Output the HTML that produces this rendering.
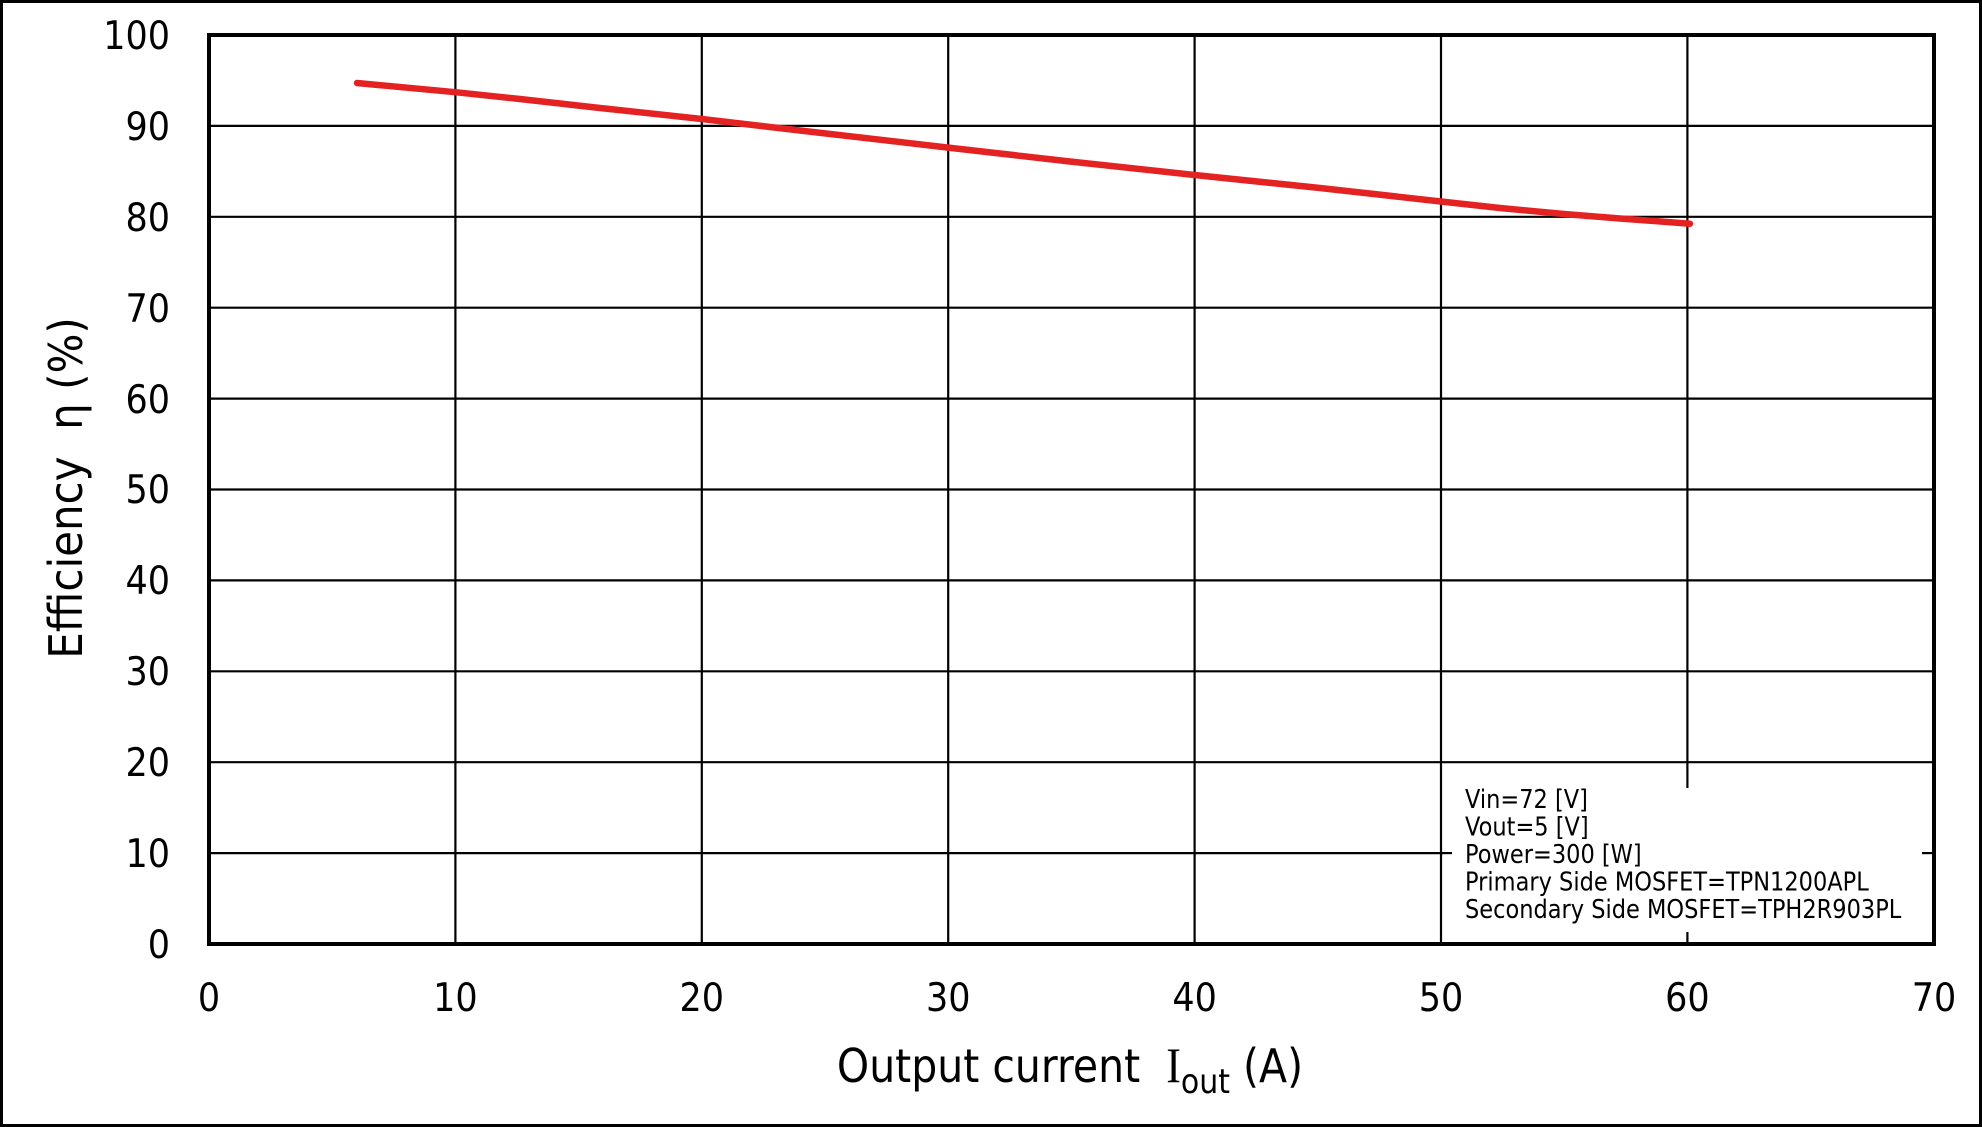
<!DOCTYPE html>
<html><head><meta charset="utf-8"><style>
html,body{margin:0;padding:0;background:#fff;}
svg{display:block;}
text{font-family:"DejaVu Sans","Liberation Sans",sans-serif;fill:#000;}
</style></head><body>
<svg width="1982" height="1127" viewBox="0 0 1982 1127" xmlns="http://www.w3.org/2000/svg">
<rect x="1.5" y="1.5" width="1979" height="1124" fill="#fff" stroke="#000" stroke-width="3"/>
<g stroke="#000" stroke-width="2.2">
<line x1="209" y1="125.9" x2="1934" y2="125.9"/>
<line x1="209" y1="216.8" x2="1934" y2="216.8"/>
<line x1="209" y1="307.7" x2="1934" y2="307.7"/>
<line x1="209" y1="398.6" x2="1934" y2="398.6"/>
<line x1="209" y1="489.5" x2="1934" y2="489.5"/>
<line x1="209" y1="580.4" x2="1934" y2="580.4"/>
<line x1="209" y1="671.3" x2="1934" y2="671.3"/>
<line x1="209" y1="762.2" x2="1934" y2="762.2"/>
<line x1="209" y1="853.1" x2="1934" y2="853.1"/>
<line x1="455.4" y1="35" x2="455.4" y2="944"/>
<line x1="701.8" y1="35" x2="701.8" y2="944"/>
<line x1="948.2" y1="35" x2="948.2" y2="944"/>
<line x1="1194.6" y1="35" x2="1194.6" y2="944"/>
<line x1="1441" y1="35" x2="1441" y2="944"/>
<line x1="1687.4" y1="35" x2="1687.4" y2="944"/>
</g>
<rect x="1443" y="777" width="489" height="165" fill="#fff"/>
<g stroke="#000" stroke-width="2.2">
<line x1="1687.4" y1="777" x2="1687.4" y2="788"/>
<line x1="1687.4" y1="932" x2="1687.4" y2="944"/>
<line x1="1441" y1="853.1" x2="1452" y2="853.1"/>
<line x1="1922" y1="853.1" x2="1934" y2="853.1"/>
</g>
<rect x="209" y="35" width="1725" height="909" fill="none" stroke="#000" stroke-width="4"/>
<polyline fill="none" stroke="#e52222" stroke-width="6.5" stroke-linecap="round" stroke-linejoin="round"
points="357,83 455.4,92.2 520,99 600,108 701.8,119 800,130.5 948.2,147.6 1070,161.5 1194.6,175 1320,188 1441,201.5 1500,208 1564,214 1620,218.5 1690,223.7"/>
<g font-size="35" text-anchor="end">
<text transform="translate(170,49) scale(1,1.12)">100</text>
<text transform="translate(170,140) scale(1,1.12)">90</text>
<text transform="translate(170,231) scale(1,1.12)">80</text>
<text transform="translate(170,322) scale(1,1.12)">70</text>
<text transform="translate(170,413) scale(1,1.12)">60</text>
<text transform="translate(170,503) scale(1,1.12)">50</text>
<text transform="translate(170,594) scale(1,1.12)">40</text>
<text transform="translate(170,685) scale(1,1.12)">30</text>
<text transform="translate(170,776) scale(1,1.12)">20</text>
<text transform="translate(170,867) scale(1,1.12)">10</text>
<text transform="translate(170,958) scale(1,1.12)">0</text>
</g>
<g font-size="35" text-anchor="middle">
<text transform="translate(209,1011) scale(1,1.12)">0</text>
<text transform="translate(455.4,1011) scale(1,1.12)">10</text>
<text transform="translate(701.8,1011) scale(1,1.12)">20</text>
<text transform="translate(948.2,1011) scale(1,1.12)">30</text>
<text transform="translate(1194.6,1011) scale(1,1.12)">40</text>
<text transform="translate(1441,1011) scale(1,1.12)">50</text>
<text transform="translate(1687.4,1011) scale(1,1.12)">60</text>
<text transform="translate(1934,1011) scale(1,1.12)">70</text>
</g>
<text transform="translate(1070,1082) scale(1,1.12)" font-size="41" text-anchor="middle" xml:space="preserve">Output current  <tspan font-family="Liberation Serif, serif" font-size="44">I</tspan><tspan font-size="30" dy="10">out</tspan><tspan dy="-10"> (A)</tspan></text>
<text transform="translate(82,488) rotate(-90) scale(1,1.1)" font-size="42" text-anchor="middle" xml:space="preserve">Efficiency  η (%)</text>
<g font-size="22.5">
<text transform="translate(1465,808) scale(1,1.15)">Vin=72 [V]</text>
<text transform="translate(1465,835.5) scale(1,1.15)">Vout=5 [V]</text>
<text transform="translate(1465,863) scale(1,1.15)">Power=300 [W]</text>
<text transform="translate(1465,890.5) scale(1,1.15)">Primary Side MOSFET=TPN1200APL</text>
<text transform="translate(1465,918) scale(1,1.15)">Secondary Side MOSFET=TPH2R903PL</text>
</g>
</svg>
</body></html>
